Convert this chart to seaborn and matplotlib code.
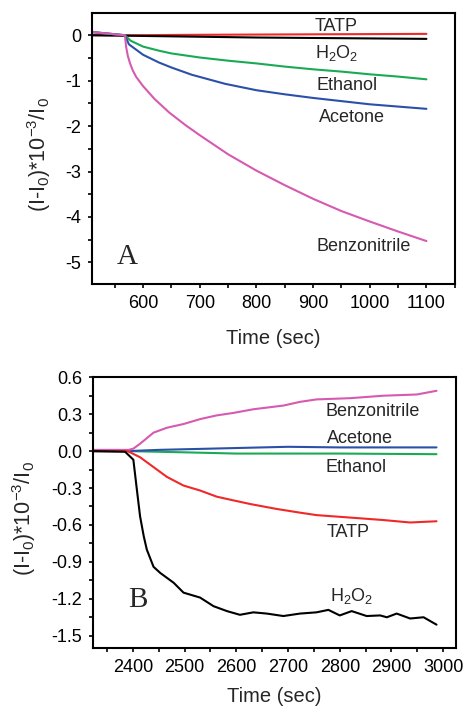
import matplotlib
import pandas as pd
import seaborn as sns

matplotlib.use("Agg")
import matplotlib.pyplot as plt  # noqa: E402
from matplotlib.ticker import FixedLocator, MultipleLocator  # noqa: E402

# ---- panel A data (time in sec, (I-I0)*1e-3/I0) ----
a_tatp_t = [510, 568, 700, 900, 1100]
a_tatp_v = [0.0, 0.0, 0.01, 0.02, 0.03]
a_h2o2_t = [510, 568, 800, 1100]
a_h2o2_v = [0.0, -0.01, -0.05, -0.08]
a_ethanol_t = [510, 568, 578, 600, 628, 650, 700, 750, 800, 850, 900, 950, 1000, 1050, 1100]
a_ethanol_v = [0.07, 0.0, -0.12, -0.25, -0.34, -0.40, -0.49, -0.56, -0.62, -0.69, -0.75, -0.80, -0.86, -0.91, -0.97]
a_acetone_t = [510, 568, 575, 600, 628, 650, 686, 745, 800, 850, 900, 950, 1000, 1050, 1100]
a_acetone_v = [0.07, 0.0, -0.2, -0.43, -0.60, -0.71, -0.87, -1.07, -1.21, -1.30, -1.38, -1.45, -1.52, -1.57, -1.62]
a_benzo_t = [510, 568, 570, 573, 577, 582, 588, 600, 620, 646, 675, 700, 750, 800, 850, 900,
             950, 1000, 1050, 1100]
a_benzo_v = [0.07, 0.0, -0.25, -0.45, -0.62, -0.78, -0.92, -1.12, -1.40, -1.70, -1.98, -2.20,
             -2.62, -2.98, -3.30, -3.60, -3.87, -4.10, -4.32, -4.53]

# ---- panel B data ----
b_h2o2_t = [2323, 2385, 2401, 2408, 2414, 2421, 2427, 2440, 2453, 2479, 2498, 2530, 2556, 2582,
            2607, 2633, 2659, 2691, 2723, 2755, 2778, 2800, 2823, 2852, 2878, 2891, 2910, 2936,
            2962, 2987]
b_h2o2_v = [0.0, -0.005, -0.07, -0.32, -0.53, -0.69, -0.80, -0.94, -0.99, -1.07, -1.15, -1.19,
            -1.26, -1.30, -1.33, -1.31, -1.32, -1.34, -1.32, -1.31, -1.29, -1.335, -1.30, -1.34,
            -1.335, -1.35, -1.32, -1.36, -1.35, -1.41]
b_tatp_t = [2323, 2390, 2414, 2440, 2466, 2498, 2530, 2562, 2594, 2627, 2678, 2723, 2755, 2820,
            2884, 2936, 2987]
b_tatp_v = [0.0, 0.0, -0.05, -0.13, -0.21, -0.28, -0.32, -0.37, -0.40, -0.43, -0.47, -0.50,
            -0.52, -0.54, -0.56, -0.58, -0.57]
b_benzo_t = [2323, 2392, 2401, 2414, 2440, 2466, 2498, 2530, 2562, 2594, 2633, 2691, 2723, 2755,
             2820, 2884, 2949, 2987]
b_benzo_v = [0.01, 0.01, 0.02, 0.06, 0.15, 0.19, 0.22, 0.26, 0.29, 0.31, 0.34, 0.37, 0.40, 0.42,
             0.43, 0.45, 0.46, 0.49]
b_acetone_t = [2323, 2390, 2450, 2550, 2650, 2700, 2800, 2987]
b_acetone_v = [0.0, 0.0, 0.01, 0.02, 0.03, 0.035, 0.03, 0.03]
b_ethanol_t = [2323, 2390, 2500, 2600, 2800, 2987]
b_ethanol_v = [0.0, 0.0, -0.01, -0.02, -0.02, -0.025]

a_yticks = [0, -1, -2, -3, -4, -5]
a_yticklabels = ["0", "-1", "-2", "-3", "-4", "-5"]
a_xticks = [600, 700, 800, 900, 1000, 1100]
b_yticks = [0.6, 0.3, 0.0, -0.3, -0.6, -0.9, -1.2, -1.5]
b_yticklabels = ["0.6", "0.3", "0.0", "-0.3", "-0.6", "-0.9", "-1.2", "-1.5"]
b_xticks = [2400, 2500, 2600, 2700, 2800, 2900, 3000]

colors = {
    "TATP": "#f02828",
    "H2O2": "#000000",
    "Ethanol": "#1aaa55",
    "Acetone": "#2b50a8",
    "Benzonitrile": "#d65ab0",
}


def _frame(series):
    parts = [pd.DataFrame({"t": t, "v": v, "s": name}) for name, t, v in series]
    return pd.concat(parts, ignore_index=True)


frame_a = _frame([
    ("TATP", a_tatp_t, a_tatp_v),
    ("H2O2", a_h2o2_t, a_h2o2_v),
    ("Ethanol", a_ethanol_t, a_ethanol_v),
    ("Acetone", a_acetone_t, a_acetone_v),
    ("Benzonitrile", a_benzo_t, a_benzo_v),
])
frame_b = _frame([
    ("Ethanol", b_ethanol_t, b_ethanol_v),
    ("Acetone", b_acetone_t, b_acetone_v),
    ("Benzonitrile", b_benzo_t, b_benzo_v),
    ("TATP", b_tatp_t, b_tatp_v),
    ("H2O2", b_h2o2_t, b_h2o2_v),
])

sns.set_style("ticks")
plt.rcParams["font.family"] = ["Liberation Sans", "DejaVu Sans"]
plt.rcParams["mathtext.fontset"] = "custom"
plt.rcParams["mathtext.rm"] = "Liberation Sans"
plt.rcParams["mathtext.it"] = "Liberation Sans"
plt.rcParams["axes.unicode_minus"] = False

fig = plt.figure(figsize=(4.65, 7.07), dpi=100)
ax_a = fig.add_axes([0.198, 0.598, 0.780, 0.383])
ax_b = fig.add_axes([0.200, 0.0834, 0.781, 0.383])

ylabel = r"(I-I$_0$)*10$^{-3}$/I$_0$"
label_size = 13


def _style(ax, xpad, ylab_x):
    for sp in ax.spines.values():
        sp.set_linewidth(1.5)
        sp.set_color("black")
    ax.tick_params(which="both", direction="out", length=3, width=1.2, pad=5,
                   labelsize=label_size, colors="black", top=False, right=False)
    ax.set_xlabel("Time (sec)", fontsize=14.5, labelpad=xpad)
    ax.set_ylabel(ylabel, fontsize=15.5)
    ax.yaxis.set_label_coords(ylab_x, 0.48)


sns.lineplot(data=frame_a, x="t", y="v", hue="s", palette=colors, sort=False,
             estimator=None, legend=False, linewidth=1.5, ax=ax_a)
ax_a.set_xlim(510, 1150)
ax_a.set_ylim(-5.48, 0.48)
ax_a.xaxis.set_major_locator(FixedLocator(a_xticks))
ax_a.xaxis.set_minor_locator(MultipleLocator(50))
ax_a.set_yticks(a_yticks)
ax_a.set_yticklabels(a_yticklabels)
ax_a.yaxis.set_minor_locator(MultipleLocator(0.5))
_style(ax_a, 12, -0.107)

ann_a = [("TATP", 903, 0.2), ("H$_2$O$_2$", 903, -0.4), ("Ethanol", 906, -1.1),
         ("Acetone", 910, -1.8), ("Benzonitrile", 906, -4.65)]
for txt, x, y in ann_a:
    ax_a.text(x, y, txt, fontsize=label_size, va="center", ha="left")
ax_a.text(0.096, 0.10, "A", transform=ax_a.transAxes, fontsize=21,
          family="Liberation Serif", va="center", ha="center")

sns.lineplot(data=frame_b, x="t", y="v", hue="s", palette=colors, sort=False,
             estimator=None, legend=False, linewidth=1.5, ax=ax_b)
ax_b.set_xlim(2323, 3025)
ax_b.set_ylim(-1.6, 0.6)
ax_b.xaxis.set_major_locator(FixedLocator(b_xticks))
ax_b.xaxis.set_minor_locator(MultipleLocator(50))
ax_b.set_yticks(b_yticks)
ax_b.set_yticklabels(b_yticklabels)
ax_b.yaxis.set_minor_locator(MultipleLocator(0.15))
_style(ax_b, 8, -0.151)

ann_b = [("Benzonitrile", 2773, 0.32), ("Acetone", 2775, 0.10), ("Ethanol", 2773, -0.13),
         ("TATP", 2775, -0.66), ("H$_2$O$_2$", 2781, -1.18)]
for txt, x, y in ann_b:
    ax_b.text(x, y, txt, fontsize=label_size, va="center", ha="left")
ax_b.text(0.124, 0.177, "B", transform=ax_b.transAxes, fontsize=21,
          family="Liberation Serif", va="center", ha="center")

fig.savefig("out.png", dpi=100)
plt.close(fig)
